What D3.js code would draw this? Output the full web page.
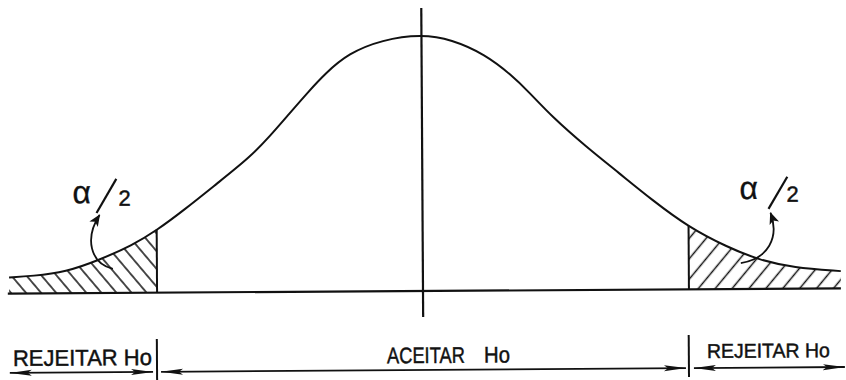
<!DOCTYPE html>
<html>
<head>
<meta charset="utf-8">
<script src="https://cdn.jsdelivr.net/npm/d3@7"></script>
<style>
  html,body{margin:0;padding:0;background:#fff;}
  svg{display:block;}
  text{font-family:"Liberation Sans",Arial,sans-serif;fill:#111;stroke:#111;stroke-width:0.45;}
</style>
</head>
<body>
<svg id="chart" width="846" height="380"></svg>
<script>
/* ----- data ------------------------------------------------- */
// curve: z (standard units) and density
const zVals   = [-3.05,-2.88,-2.63,-2.39,-2.14,-1.96,-1.76,-1.51,-1.27,-1.12,-0.98,-0.83,-0.71,-0.54,-0.29,
                 0,0.22,0.47,0.66,0.79,0.96,1.21,1.45,1.69,1.96,2.24,2.48,2.73,3.08];
const density = [0.025,0.027,0.033,0.051,0.074,0.097,0.128,0.170,0.210,0.243,0.277,0.313,0.340,0.371,0.392,
                 0.400,0.392,0.368,0.336,0.309,0.270,0.223,0.182,0.140,0.097,0.066,0.045,0.033,0.027];
const critZ   = [-1.96, 1.96];
const zRange  = [-3.06, 3.08];
const regionLabels = ['REJEITAR Ho','ACEITAR','Ho','REJEITAR Ho'];
const tailLabel = ['α','2'];

/* ----- SVG setup -------------------------------------------- */
const svg = d3.select('#chart'),
      ink = '#111';

const x = d3.scaleLinear().domain([-3.06,3.06]).range([7.8,838.2]);
const y = d3.scaleLinear().domain([0,0.399]).range([291,35]);

const pts = zVals.map((z,i)=>({z, d:density[i]}));

/* hatch patterns */
const defs = svg.append('defs');
function hatch(id, angle, gap){
  defs.append('pattern').attr('id',id)
    .attr('patternUnits','userSpaceOnUse')
    .attr('width',gap).attr('height',gap)
    .attr('patternTransform',`rotate(${angle})`)
    .append('line')
      .attr('x1',gap/2).attr('x2',gap/2).attr('y1',0).attr('y2',gap)
      .attr('stroke',ink).attr('stroke-width',1.5);
}
hatch('hatchL',-40,11.5);
hatch('hatchR', 40,13);

/* arrow heads */
defs.append('marker').attr('id','arr')
  .attr('markerUnits','userSpaceOnUse')
  .attr('viewBox','0 0 22 8').attr('refX',22).attr('refY',4)
  .attr('markerWidth',22).attr('markerHeight',8)
  .attr('orient','auto-start-reverse')
  .append('path').attr('d','M0,1 L22,4 L0,7 L4,4 Z').attr('fill',ink);
defs.append('marker').attr('id','small')
  .attr('markerUnits','userSpaceOnUse')
  .attr('viewBox','0 0 12 10').attr('refX',11).attr('refY',5)
  .attr('markerWidth',12).attr('markerHeight',10)
  .attr('orient','auto')
  .append('path').attr('d','M0,0 L12,5 L0,10 L3,5 Z').attr('fill',ink);

/* ----- curve group (scan is tilted a little) ---------------- */
const g = svg.append('g').attr('transform',`rotate(-0.35,${x(0)},${y(0)})`);

const area = d3.area().x(d=>x(d.z)).y0(y(0)).y1(d=>y(d.d)).curve(d3.curveBasis);
g.append('path').datum(pts.filter(d=>d.z<=critZ[0]))
  .attr('d',area).attr('fill','url(#hatchL)');
g.append('path').datum(pts.filter(d=>d.z>=critZ[1]))
  .attr('d',area).attr('fill','url(#hatchR)');

const line = d3.line().x(d=>x(d.z)).y(d=>y(d.d)).curve(d3.curveBasis);
g.append('path').datum(pts).attr('d',line)
  .attr('fill','none').attr('stroke',ink).attr('stroke-width',2);

// baseline
g.append('line')
  .attr('x1',x(zRange[0])).attr('x2',x(zRange[1]))
  .attr('y1',y(0)).attr('y2',y(0))
  .attr('stroke',ink).attr('stroke-width',2.2);

// centre line
g.append('line')
  .attr('x1',x(0)).attr('x2',x(0)).attr('y1',8).attr('y2',317)
  .attr('stroke',ink).attr('stroke-width',2.2);

// critical values
critZ.forEach(c=>{
  const i = zVals.indexOf(c),
        d = (density[i-1]+4*density[i]+density[i+1])/6;
  g.append('line')
    .attr('x1',x(c)).attr('x2',x(c)).attr('y1',y(0)).attr('y2',y(d))
    .attr('stroke',ink).attr('stroke-width',2);
});

/* alpha/2 labels with curved pointers */
[
  {ax:73, sl:[97,211,117,177], tx:119, arrow:'M113,267 C90,261 85,236 100,213'},
  {ax:740, sl:[769,211,788,179], tx:787, arrow:'M741,265 C768,261 780,240 771,215'}
].forEach(l=>{
  g.append('text').attr('x',l.ax).attr('y',201)
    .style('font-size','32px').style('stroke-width',0.3).text(tailLabel[0]);
  g.append('line')
    .attr('x1',l.sl[0]).attr('y1',l.sl[1]).attr('x2',l.sl[2]).attr('y2',l.sl[3])
    .attr('stroke',ink).attr('stroke-width',2.2);
  g.append('text').attr('x',l.tx).attr('y',204)
    .style('font-size','22px').text(tailLabel[1]);
  g.append('path').attr('d',l.arrow)
    .attr('fill','none').attr('stroke',ink).attr('stroke-width',1.8)
    .attr('marker-end','url(#small)');
});

/* ----- decision regions below the axis ---------------------- */
const b = svg.append('g').attr('transform',`rotate(-0.41,${x(0)},370)`);
const ay = 370;
const edges = [zRange[0], critZ[0], critZ[1], zRange[1]];

// ticks at critical values
critZ.forEach(c=>{
  b.append('line')
    .attr('x1',x(c)).attr('x2',x(c)).attr('y1',337).attr('y2',379)
    .attr('stroke',ink).attr('stroke-width',2);
});

// double arrows
const gaps = [[2,4],[4,3],[5,-4]];
d3.range(3).forEach(i=>{
  b.append('line')
    .attr('x1',x(edges[i])+gaps[i][0]).attr('x2',x(edges[i+1])-gaps[i][1])
    .attr('y1',ay).attr('y2',ay)
    .attr('stroke',ink).attr('stroke-width',1.8)
    .attr('marker-start','url(#arr)').attr('marker-end','url(#arr)');
});

// labels
[
  {x:13,  y:363, w:139, s:22.5},
  {x:387, y:363, w:78,  s:22.5},
  {x:484, y:363, w:26,  s:22.5},
  {x:707, y:360, w:123, s:20}
].forEach((t,i)=>{
  b.append('text').attr('x',t.x).attr('y',t.y)
    .attr('textLength',t.w).attr('lengthAdjust','spacingAndGlyphs')
    .style('font-size',t.s+'px').text(regionLabels[i]);
});
</script>
</body>
</html>
